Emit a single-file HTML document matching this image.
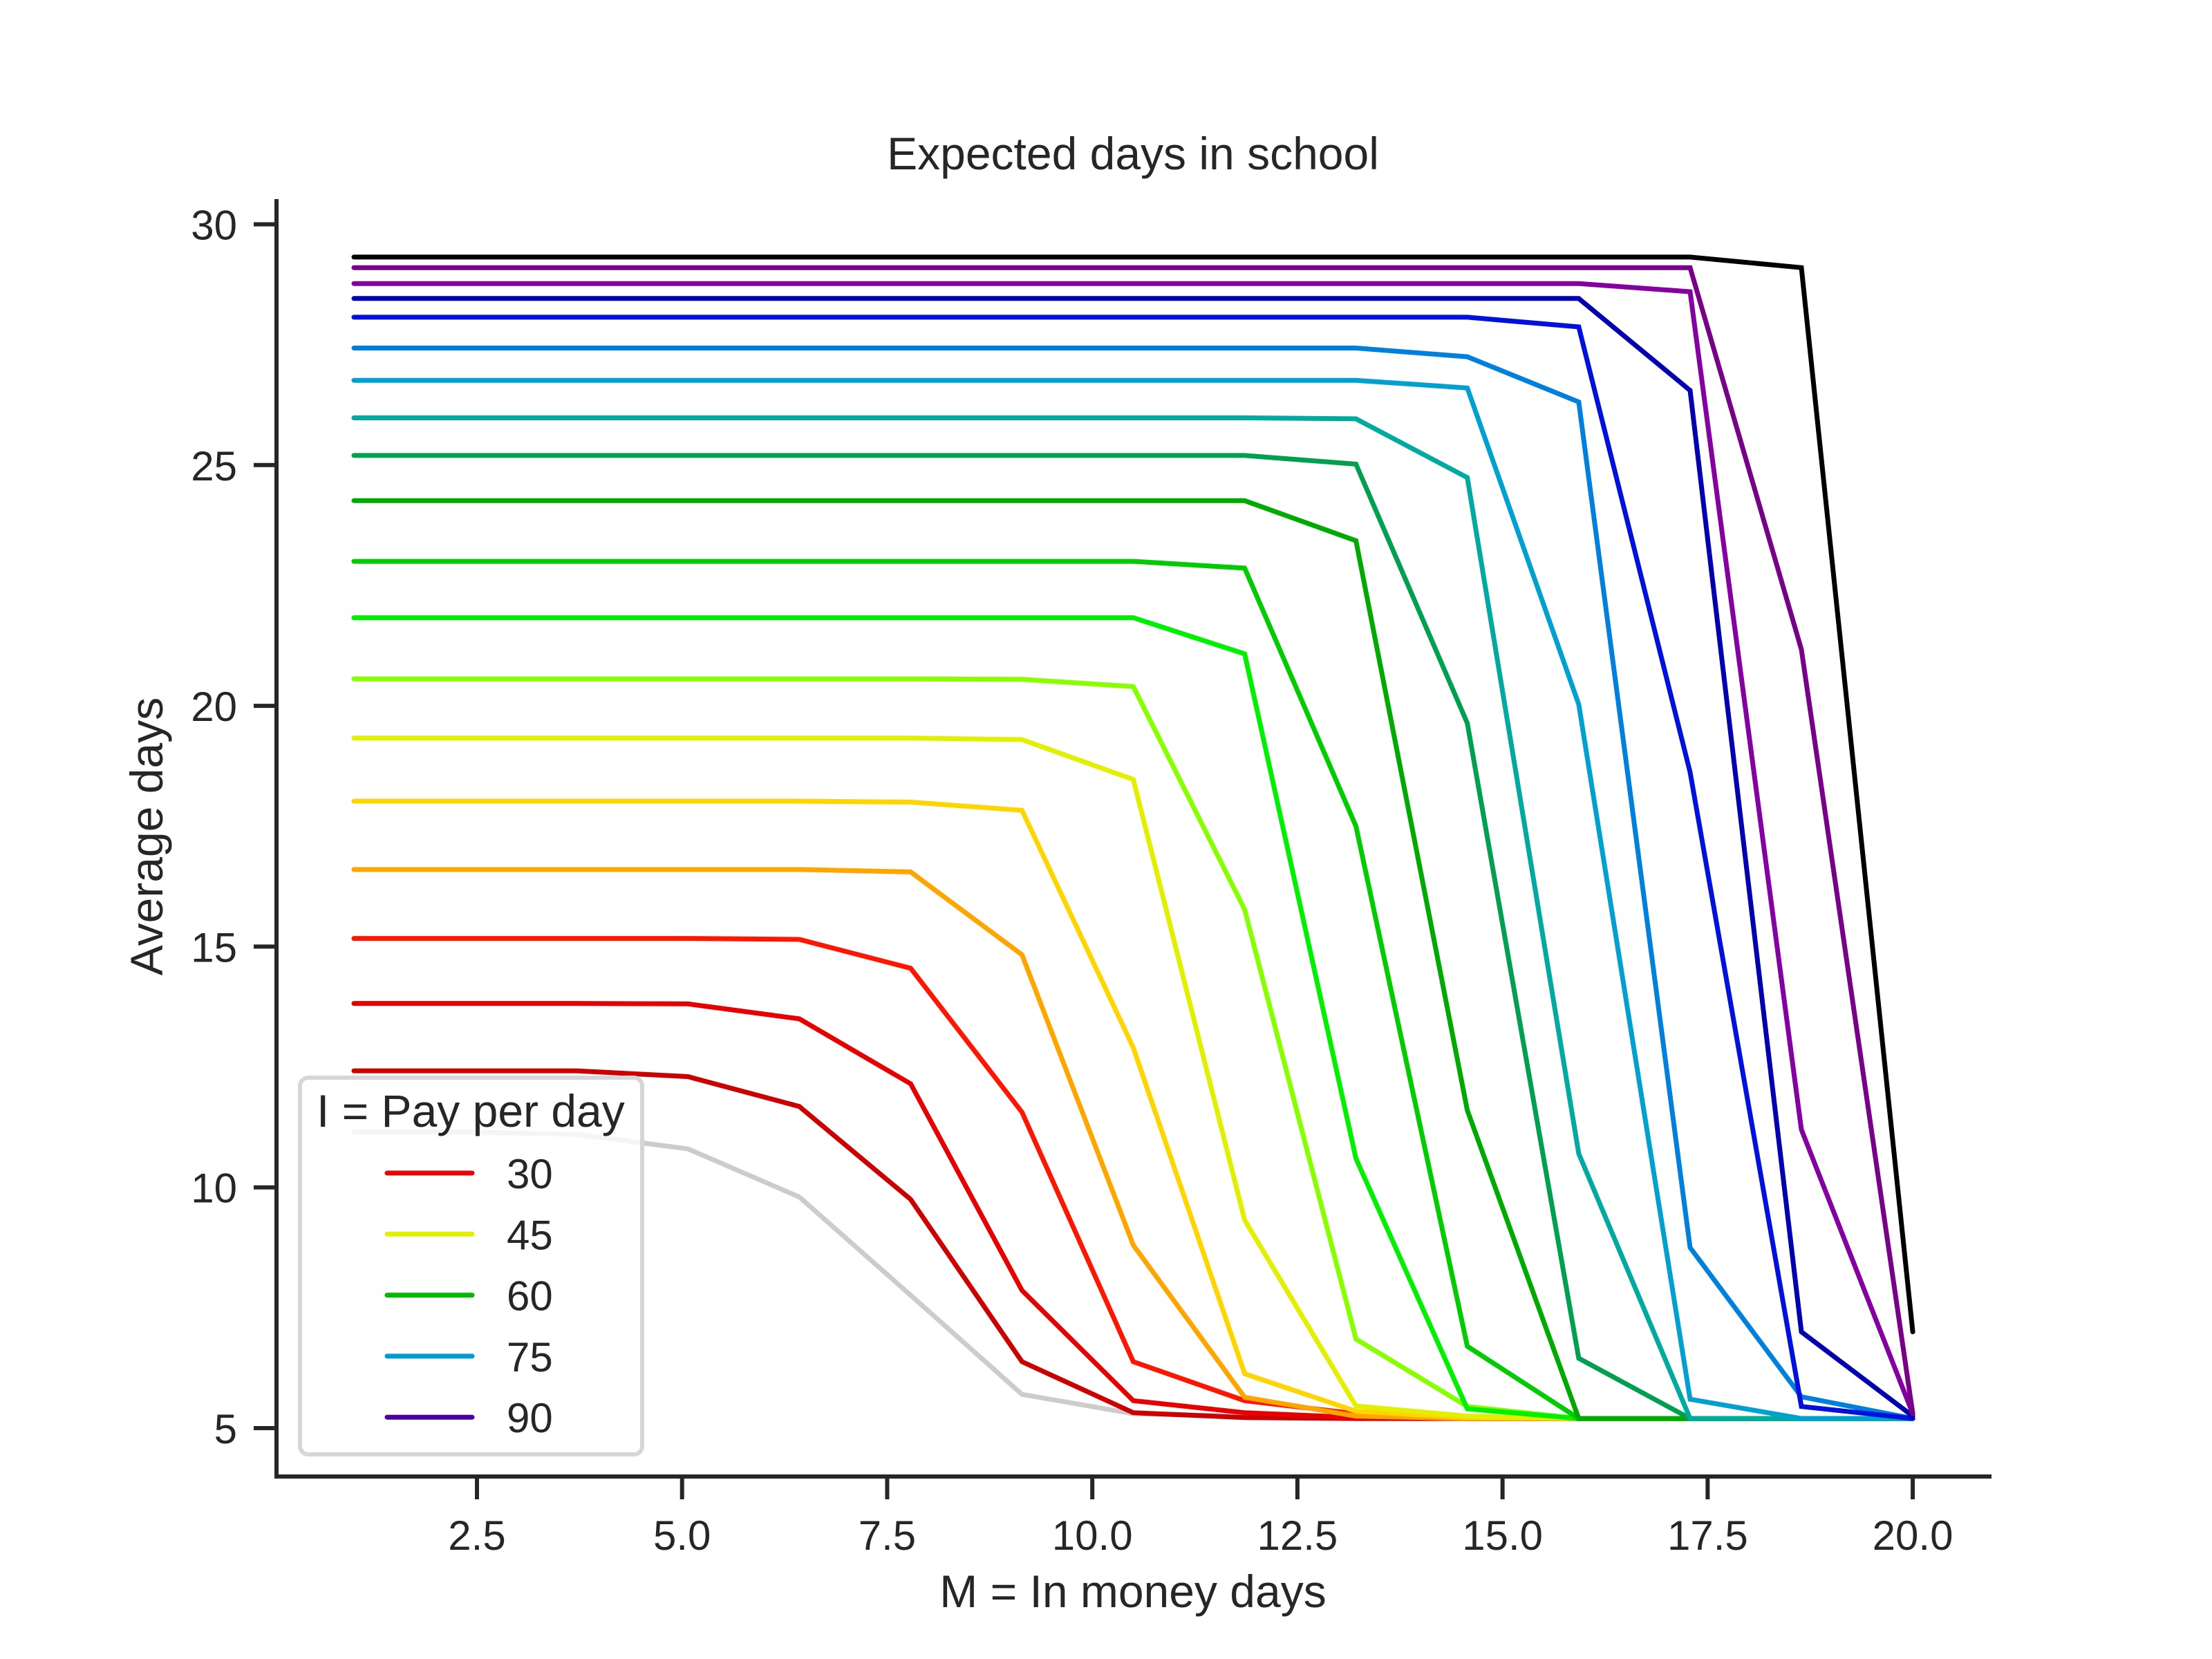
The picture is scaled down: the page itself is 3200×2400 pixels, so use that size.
<!DOCTYPE html>
<html><head><meta charset="utf-8"><style>
html,body{margin:0;padding:0;background:#fff}
svg{display:block;font-family:"Liberation Sans",sans-serif;fill:#262626}
</style></head><body>
<svg id="chart" width="3200" height="2400" viewBox="0 0 3200 2400">
<text x="1639" y="245" font-size="66" text-anchor="middle">Expected days in school</text>
<text x="1639" y="2325" font-size="66" text-anchor="middle">M = In money days</text>
<text x="0" y="0" font-size="66" text-anchor="middle" transform="translate(235,1210) rotate(-90)">Average days</text>
<g id="axes"></g>
<g id="lines"></g>
<g id="legend"></g>
</svg>
<script>
const xValues = [1,2.357,3.714,5.071,6.429,7.786,9.143,10.5,11.857,13.214,14.571,15.929,17.286,18.643,20];
const xTicks = [2.5,5.0,7.5,10.0,12.5,15.0,17.5,20.0];
const yTicks = [5,10,15,20,25,30];
const s0 = [11.15,11.15,11.1,10.8,9.8,7.76,5.7,5.3,5.25,5.2,5.2,5.2,5.2,5.2,5.2];
const s1 = [12.42,12.42,12.42,12.3,11.68,9.75,6.38,5.32,5.22,5.2,5.2,5.2,5.2,5.2,5.2];
const s2 = [13.82,13.82,13.82,13.81,13.5,12.15,7.86,5.57,5.32,5.22,5.2,5.2,5.2,5.2,5.2];
const s3 = [15.17,15.17,15.17,15.17,15.15,14.55,11.56,6.38,5.57,5.3,5.2,5.2,5.2,5.2,5.2];
const s4 = [16.6,16.6,16.6,16.6,16.6,16.55,14.83,8.8,5.64,5.25,5.2,5.2,5.2,5.2,5.2];
const s5 = [18.02,18.02,18.02,18.02,18.02,18.0,17.83,12.9,6.13,5.35,5.22,5.2,5.2,5.2,5.2];
const s6 = [19.33,19.33,19.33,19.33,19.33,19.33,19.3,18.47,9.32,5.46,5.25,5.2,5.2,5.2,5.2];
const s7 = [20.56,20.56,20.56,20.56,20.56,20.56,20.55,20.4,15.77,6.85,5.45,5.2,5.2,5.2,5.2];
const s8 = [21.83,21.83,21.83,21.83,21.83,21.83,21.83,21.83,21.08,10.6,5.4,5.2,5.2,5.2,5.2];
const s9 = [23.0,23.0,23.0,23.0,23.0,23.0,23.0,23.0,22.86,17.5,6.7,5.2,5.2,5.2,5.2];
const s10 = [24.26,24.26,24.26,24.26,24.26,24.26,24.26,24.26,24.26,23.43,11.6,5.2,5.2,5.2,5.2];
const s11 = [25.2,25.2,25.2,25.2,25.2,25.2,25.2,25.2,25.2,25.02,19.64,6.45,5.2,5.2,5.2];
const s12 = [25.98,25.98,25.98,25.98,25.98,25.98,25.98,25.98,25.98,25.96,24.74,10.7,5.2,5.2,5.2];
const s13 = [26.76,26.76,26.76,26.76,26.76,26.76,26.76,26.76,26.76,26.76,26.6,20.03,5.6,5.2,5.2];
const s14 = [27.43,27.43,27.43,27.43,27.43,27.43,27.43,27.43,27.43,27.43,27.25,26.31,8.75,5.65,5.2];
const s15 = [28.07,28.07,28.07,28.07,28.07,28.07,28.07,28.07,28.07,28.07,28.07,27.87,18.62,5.45,5.2];
const s16 = [28.46,28.46,28.46,28.46,28.46,28.46,28.46,28.46,28.46,28.46,28.46,28.46,26.55,7.0,5.25];
const s17 = [28.77,28.77,28.77,28.77,28.77,28.77,28.77,28.77,28.77,28.77,28.77,28.77,28.6,11.2,5.3];
const s18 = [29.1,29.1,29.1,29.1,29.1,29.1,29.1,29.1,29.1,29.1,29.1,29.1,29.1,21.17,5.3];
const s19 = [29.32,29.32,29.32,29.32,29.32,29.32,29.32,29.32,29.32,29.32,29.32,29.32,29.32,29.1,7.0];
const seriesList = [s0,s1,s2,s3,s4,s5,s6,s7,s8,s9,s10,s11,s12,s13,s14,s15,s16,s17,s18,s19];
const seriesColors = ["#cccccc","#cc0000","#e80000","#ff1500","#ffa500","#ffd500","#e2f000","#88ff00","#00f000","#00cc00","#00aa00","#00a050","#00aaa0","#00a0d0","#0080dd","#0010dd","#0000b0","#8500a0","#780088","#000000"];
const legendLabels = ["30","45","60","75","90"];
const legendColors = ["#ee0000","#e0f000","#00bb00","#0099d0","#4c00a0"];

const NS = "http://www.w3.org/2000/svg";
function xs(v){ return 690 + (v-2.5)*118.69; }
function ys(v){ return 2066 - (v-5)*69.66; }
function mk(tag, attrs, parent){
  const e = document.createElementNS(NS, tag);
  for (const k in attrs) e.setAttribute(k, attrs[k]);
  parent.appendChild(e); return e;
}
const axes = document.getElementById('axes');
let e;
e = mk('line',{x1:400,y1:288,x2:400,y2:2139,stroke:'#262626','stroke-width':6},axes);


e = mk('line',{x1:397,y1:2136,x2:2881,y2:2136,stroke:'#262626','stroke-width':6},axes);


xTicks.forEach(t=>{
  const x = xs(t);
  const l = mk('line',{x1:x,y1:2136,x2:x,y2:2169,stroke:'#262626','stroke-width':6},axes);
  
  
  const tx = mk('text',{x:x,y:2242,'font-size':60,'text-anchor':'middle'},axes);
  tx.textContent = t.toFixed(1);
  
  
});
yTicks.forEach(t=>{
  const y = ys(t);
  const l = mk('line',{x1:367,y1:y,x2:400,y2:y,stroke:'#262626','stroke-width':6},axes);
  
  
  const tx = mk('text',{x:343,y:y+22,'font-size':60,'text-anchor':'end'},axes);
  tx.textContent = String(t);
  
  
});
const lines = document.getElementById('lines');
seriesList.forEach((s,i)=>{
  const pts = s.map((v,j)=>xs(xValues[j]).toFixed(1)+','+ys(v).toFixed(1)).join(' ');
  const p = mk('polyline',{points:pts,fill:'none',stroke:seriesColors[i],'stroke-width':7,'stroke-linejoin':'miter','stroke-linecap':'round'},lines);
  
  
});
const lg = document.getElementById('legend');
e = mk('rect',{x:434,y:1559,width:495,height:545,rx:12,fill:'#ffffff','fill-opacity':0.8,stroke:'#d6d6d6','stroke-width':6},lg);


e = mk('text',{x:458,y:1630,'font-size':66},lg);
e.textContent = 'I = Pay per day';


legendLabels.forEach((lab,i)=>{
  const y = 1697 + i*88.3;
  const l = mk('line',{x1:560,y1:y,x2:683,y2:y,stroke:legendColors[i],'stroke-width':7,'stroke-linecap':'round'},lg);
  
  
  const t = mk('text',{x:733,y:y+22,'font-size':60},lg);
  t.textContent = lab;
  
  
});
</script>
</body></html>
